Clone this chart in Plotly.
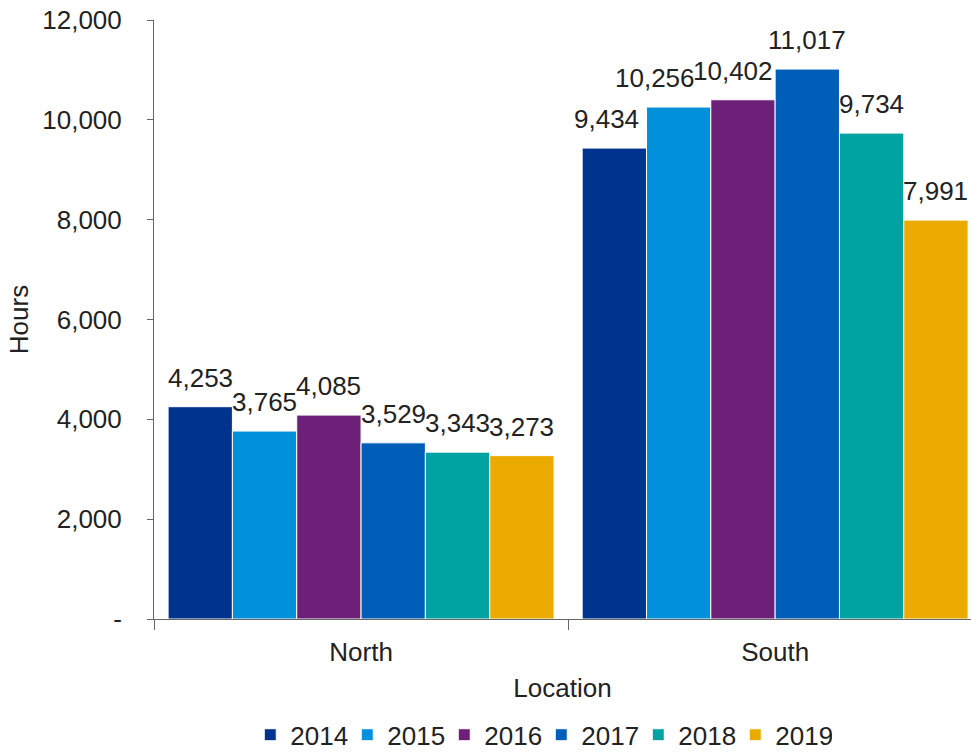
import plotly.graph_objects as go

# Hours by location and year
locations = ["North", "South"]
years = ["2014", "2015", "2016", "2017", "2018", "2019"]
hours = {
    "2014": [4253, 9434],
    "2015": [3765, 10256],
    "2016": [4085, 10402],
    "2017": [3529, 11017],
    "2018": [3343, 9734],
    "2019": [3273, 7991],
}
colors = ["#00338D", "#0091DA", "#6D2077", "#005EB8", "#00A3A1", "#EAAA00"]

y_ticks = [0, 2000, 4000, 6000, 8000, 10000, 12000]
y_ticktext = ["-", "2,000", "4,000", "6,000", "8,000", "10,000", "12,000"]

# horizontal nudges (px) for crowded value labels, keyed by (year, location index)
label_nudge = {("2014", 1): -8, ("2015", 1): -24, ("2016", 1): -10}

FONT = "Liberation Sans"
FS = 26
TXT = "#222222"
AXIS = "#666666"
BARGAP = 0.068

fig = go.Figure()
for yr, col in zip(years, colors):
    fig.add_trace(go.Bar(
        name=yr,
        x=locations,
        y=hours[yr],
        marker=dict(color=col, line=dict(color="white", width=1)),
    ))

# value labels above each bar
n = len(years)
bw = (1 - BARGAP) / n
for k, yr in enumerate(years):
    for i, v in enumerate(hours[yr]):
        fig.add_annotation(
            x=i + (k - (n - 1) / 2) * bw, y=v, xref="x", yref="y",
            text=f"{v:,}", showarrow=False, yanchor="bottom", yshift=12,
            xshift=label_nudge.get((yr, i), 0),
            font=dict(family=FONT, size=FS, color=TXT),
        )

fig.update_layout(
    width=971, height=756,
    margin=dict(l=154, r=0, t=20, b=137, autoexpand=False),
    paper_bgcolor="white", plot_bgcolor="white",
    barmode="group", bargap=BARGAP, bargroupgap=0,
    font=dict(family=FONT, size=FS, color=TXT),
    showlegend=True,
    legend=dict(
        orientation="h", x=0.474, xanchor="center",
        y=0.028, yref="container", yanchor="middle",
        font=dict(family=FONT, size=FS, color=TXT),
        itemclick=False, entrywidth=52, entrywidthmode="pixels",
    ),
)
fig.update_xaxes(
    range=[-0.5, 1.473],
    showline=True, linecolor=AXIS, linewidth=1,
    ticks="outside", tickson="boundaries", ticklen=10, tickcolor=AXIS,
    showgrid=False, zeroline=False,
    tickfont=dict(family=FONT, size=FS, color=TXT),
    ticklabelstandoff=10,
    title=dict(text="Location", font=dict(family=FONT, size=FS, color=TXT), standoff=12),
)
fig.update_yaxes(
    range=[0, 12000],
    tickvals=y_ticks, ticktext=y_ticktext,
    showline=True, linecolor=AXIS, linewidth=1,
    ticks="outside", ticklen=6, tickcolor=AXIS,
    showgrid=False, zeroline=False,
    tickfont=dict(family=FONT, size=FS, color=TXT),
    ticklabelstandoff=20,
    title=dict(text="Hours", font=dict(family=FONT, size=FS, color=TXT), standoff=6),
)

fig.write_html("out.html")
